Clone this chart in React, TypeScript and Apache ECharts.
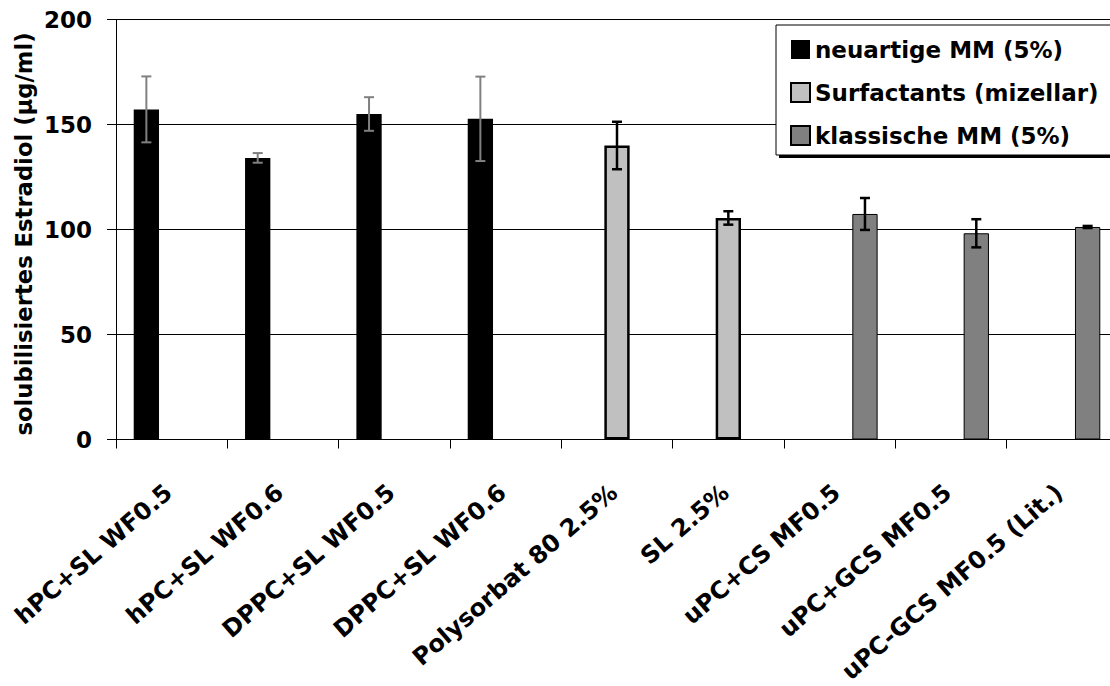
import React, { useEffect, useRef } from "react";
import * as echarts from "echarts";

const categories = [
  "hPC+SL WF0.5",
  "hPC+SL WF0.6",
  "DPPC+SL WF0.5",
  "DPPC+SL WF0.6",
  "Polysorbat 80 2.5%",
  "SL 2.5%",
  "uPC+CS MF0.5",
  "uPC+GCS MF0.5",
  "uPC-GCS MF0.5 (Lit.)",
];
const seriesNames = ["neuartige MM (5%)", "Surfactants (mizellar)", "klassische MM (5%)"];
const neuartige = [157.2, 134.1, 155.0, 152.7, null, null, null, null, null];
const surfactants = [null, null, null, null, 140.0, 105.5, null, null, null];
const klassische = [null, null, null, null, null, null, 107.4, 98.2, 101.2];
const errors = [15.7, 2.3, 8.0, 20.1, 11.3, 3.2, 7.6, 6.7, 0.5];
const groupOf = [0, 0, 0, 0, 1, 1, 2, 2, 2];
const yTicks = { min: 0, max: 200, interval: 50 };
const yTitle = "solubilisiertes Estradiol (µg/ml)";

const FONT = "DejaVu Sans";
const BAR_W = 25.3;

export default function App() {
  const ref = useRef<HTMLDivElement>(null);
  useEffect(() => {
    document.body.style.margin = "0";
    const chart = echarts.init(ref.current!, undefined, { renderer: "svg" });
    const seriesData = [neuartige, surfactants, klassische];
    const errData = categories.map((_, i) => {
      const v = seriesData[groupOf[i]][i] as number;
      return [i, v, errors[i], groupOf[i]];
    });
    const errColors = ["#808080", "#000000", "#000000"];
    const option: any = {
      animation: false,
      textStyle: { fontFamily: FONT, fontWeight: "bold", color: "#000" },
      grid: {
        left: 116,
        top: 19.5,
        width: 1002,
        height: 420,
        containLabel: false,
        outerBoundsMode: "none",
      },
      legend: {
        orient: "vertical",
        left: 790,
        top: 38,
        padding: 0,
        itemWidth: 19,
        itemHeight: 19,
        itemGap: 20,
        icon: "rect",
        z: 10,
        textStyle: { fontFamily: FONT, fontWeight: "bold", fontSize: 23, color: "#000", lineHeight: 23 },
        data: seriesNames,
      },
      graphic: [
        { type: "rect", z: 5, shape: { x: 779, y: 28, width: 345, height: 130 }, style: { fill: "#000" } },
        {
          type: "rect",
          z: 6,
          shape: { x: 776, y: 25, width: 345, height: 130 },
          style: { fill: "#fff", stroke: "#000", lineWidth: 1 },
        },
        {
          type: "text",
          x: 23.5,
          y: 234,
          rotation: Math.PI / 2,
          style: {
            text: yTitle,
            fontFamily: FONT,
            fontWeight: "bold",
            fontSize: 22.7,
            fill: "#000",
            align: "center",
            verticalAlign: "middle",
          },
        },
      ],
      xAxis: {
        type: "category",
        data: categories,
        axisLine: { lineStyle: { color: "#000", width: 1 } },
        axisTick: { show: true, length: 9, lineStyle: { color: "#000" } },
        axisLabel: {
          interval: 0,
          rotate: 41,
          margin: 47,
          padding: [0, 4, 0, 0],
          fontSize: 24,
          fontFamily: FONT,
          fontWeight: "bold",
          color: "#000",
        },
      },
      yAxis: {
        type: "value",
        min: yTicks.min,
        max: yTicks.max,
        interval: yTicks.interval,
        axisLine: { show: true, lineStyle: { color: "#000", width: 1 } },
        axisTick: { show: true, length: 9, lineStyle: { color: "#000" } },
        axisLabel: { margin: 24, fontSize: 23, fontFamily: FONT, fontWeight: "bold", color: "#000" },
        splitLine: { show: true, lineStyle: { color: "#000", width: 1 } },
      },
      series: [
        {
          name: seriesNames[0],
          type: "bar",
          data: neuartige,
          barWidth: BAR_W,
          barGap: "0%",
          itemStyle: { color: "#000000", borderColor: "#000", borderWidth: 0 },
        },
        {
          name: seriesNames[1],
          type: "bar",
          data: surfactants,
          barWidth: BAR_W,
          barGap: "0%",
          itemStyle: { color: "#C0C0C0", borderColor: "#000", borderWidth: 2.5 },
        },
        {
          name: seriesNames[2],
          type: "bar",
          data: klassische,
          barWidth: BAR_W,
          barGap: "0%",
          itemStyle: { color: "#808080", borderColor: "#000", borderWidth: 1 },
        },
        {
          type: "custom",
          z: 3,
          data: errData,
          encode: { x: 0, y: 1 },
          renderItem: (params: any, api: any) => {
            const cat = api.value(0);
            const v = api.value(1);
            const e = api.value(2);
            const g = api.value(3);
            const top = api.coord([cat, v + e]);
            const bot = api.coord([cat, v - e]);
            const x = top[0] + (g - 1) * BAR_W;
            const color = errColors[g];
            const lw = g === 0 ? 2 : 2.5;
            const cap = 5;
            return {
              type: "group",
              children: [
                { type: "line", shape: { x1: x, y1: top[1], x2: x, y2: bot[1] }, style: { stroke: color, lineWidth: lw } },
                { type: "line", shape: { x1: x - cap, y1: top[1], x2: x + cap, y2: top[1] }, style: { stroke: color, lineWidth: lw } },
                { type: "line", shape: { x1: x - cap, y1: bot[1], x2: x + cap, y2: bot[1] }, style: { stroke: color, lineWidth: lw } },
              ],
            };
          },
        },
      ],
    };
    chart.setOption(option);
    return () => chart.dispose();
  }, []);
  return <div ref={ref} style={{ width: 1110, height: 686 }} />;
}
